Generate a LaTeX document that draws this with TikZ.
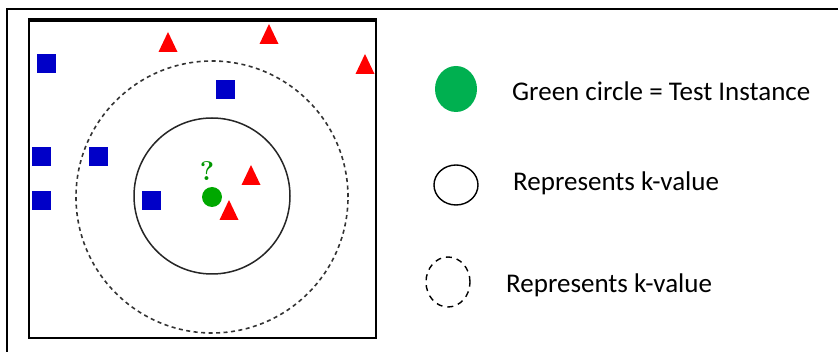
\documentclass[tikz,border=0pt]{standalone}
\usepackage{fontspec}
\usetikzlibrary{shapes.geometric}
\newfontfamily\legendfont{Carlito}
\begin{document}
\begin{tikzpicture}[x=1pt,y=-1pt,
  sq/.style={draw=none,fill={rgb,255:red,0;green,0;blue,200},minimum size=19pt,inner sep=0pt},
  tri/.pic={\fill[red] (-9.5,10) -- (9.5,10) -- (0,-10) -- cycle;},
  kcircle/.style={draw=black!85,line width=1.5pt,circle,inner sep=0pt},
  legtext/.style={anchor=base west,inner sep=0pt,font=\legendfont\fontsize{27}{31}\selectfont}
]
\useasboundingbox (0,0) rectangle (838,352);
% outer frame (top and left only visible)
\draw[line width=2pt,black] (7,353) -- (7,9) -- (839,9);
% plot box
\node[draw=black,line width=2.5pt,minimum width=347pt,minimum height=317pt,inner sep=0pt] (box) at (202.5,179.5) {};
\draw[line width=4pt] (box.north west) -- (box.north east);
% circles
\node[draw=black!80,line width=1.6pt,dash pattern=on 4pt off 3.5pt,circle,minimum size=272pt,inner sep=0pt] (outer) at (212,197) {};
\node[kcircle,minimum size=156pt] (inner) at (212,196) {};
% test instance
\node[circle,fill={rgb,255:red,0;green,168;blue,0},minimum size=20pt,inner sep=0pt] (test) at (212,197) {};
\node[text={rgb,255:red,0;green,150;blue,0},font=\bfseries\fontsize{27}{30}\selectfont,inner sep=0pt] (q) at (207,171) {?};
% blue squares
\node[sq] (s1) at (46,64) {};
\node[sq] (s2) at (225,90) {};
\node[sq] (s3) at (41,157) {};
\node[sq] (s4) at (98,157) {};
\node[sq] (s5) at (41,201) {};
\node[sq] (s6) at (151,201) {};
% red triangles
\pic at (168,42) {tri};
\pic at (269,34) {tri};
\pic at (365,64) {tri};
\pic at (251,175) {tri};
\pic at (229,210) {tri};
% legend
\node[ellipse,fill={rgb,255:red,0;green,176;blue,80},minimum width=42pt,minimum height=46pt,inner sep=0pt] (lg1) at (456,89) {};
\node[legtext] (lt1) at (512,101) {Green circle = Test Instance};
\node[draw=black,line width=1.4pt,ellipse,minimum width=44pt,minimum height=40pt,inner sep=0pt] (lg2) at (456,185) {};
\node[legtext] (lt2) at (513,191) {Represents k-value};
\node[draw=black,line width=1.4pt,dash pattern=on 6pt off 5pt,ellipse,minimum width=44pt,minimum height=50pt,inner sep=0pt] (lg3) at (448,282) {};
\node[legtext] (lt3) at (506,293) {Represents k-value};
\end{tikzpicture}
\end{document}
